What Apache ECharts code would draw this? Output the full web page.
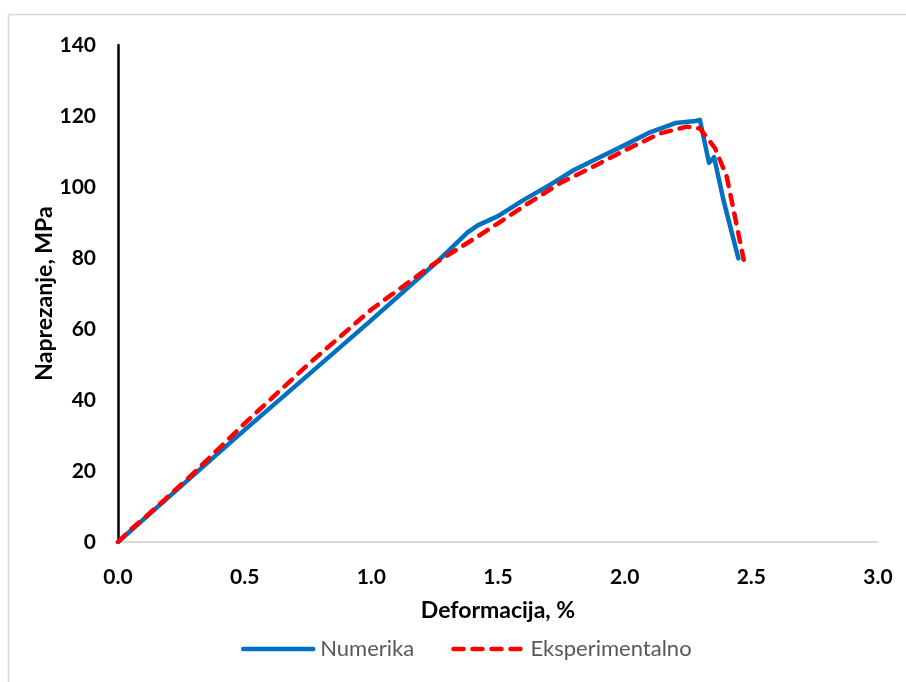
<!DOCTYPE html>
<html>
<head>
<meta charset="utf-8">
<script src="https://cdn.jsdelivr.net/npm/echarts@6/dist/echarts.min.js"></script>
<style>
html,body{margin:0;padding:0;background:#fff;}
#chart{width:906px;height:682px;}
</style>
</head>
<body>
<div id="chart"></div>
<script>
const seriesNames = ['Numerika', 'Eksperimentalno'];
const xTicks = ['0.0', '0.5', '1.0', '1.5', '2.0', '2.5', '3.0'];
const yTicks = [0, 20, 40, 60, 80, 100, 120, 140];
const numerikaX = [0, 0.25, 0.5, 0.75, 1.0, 1.25, 1.38, 1.42, 1.5, 1.6, 1.7, 1.8, 1.9, 2.0, 2.1, 2.2, 2.28, 2.297, 2.333, 2.353, 2.39, 2.449];
const numerikaY = [0, 15.8, 31.6, 47.0, 62.5, 78.3, 87.2, 89.2, 91.8, 96.3, 100.4, 104.8, 108.3, 111.8, 115.4, 118.0, 118.6, 118.9, 106.8, 108.4, 96.3, 79.9];
const eksperX = [0, 0.05, 0.1, 0.19, 0.3, 0.5, 0.75, 1.0, 1.25, 1.43, 1.6, 1.75, 1.85, 2.0, 2.14, 2.245, 2.297, 2.357, 2.403, 2.47];
const eksperY = [0, 3.5, 6.5, 12.3, 19.5, 33.4, 50.0, 65.5, 78.5, 86.5, 94.5, 101.3, 104.8, 110.3, 115.1, 117.0, 116.5, 110.9, 102.9, 79.5];

const zip = (xs, ys) => xs.map((x, i) => [x, ys[i]]);
const FONT = 'Lato, "Open Sans", "DejaVu Sans", sans-serif';

const chart = echarts.init(document.getElementById('chart'));
chart.setOption({
  animation: false,
  backgroundColor: '#ffffff',
  graphic: [{
    type: 'rect',
    shape: { x: 8.5, y: 14.5, width: 1000, height: 1000 },
    style: { fill: 'none', stroke: '#d9d9d9', lineWidth: 1.5 },
    silent: true
  }],
  grid: { left: 118, right: 28, top: 45, bottom: 140 },
  legend: {
    left: 236, top: 633,
    itemWidth: 70, itemHeight: 14, itemGap: 37,
    itemStyle: { opacity: 0 },
    lineStyle: { width: 4.5, cap: 'round' },
    textStyle: { color: '#595959', fontSize: 22, fontFamily: FONT, padding: [0, 0, 0, 2] },
    data: seriesNames
  },
  xAxis: {
    type: 'value', min: 0, max: 3, interval: 0.5,
    name: 'Deformacija, %', nameLocation: 'middle', nameGap: 57,
    nameTextStyle: { color: '#000', fontSize: 23, fontWeight: 'bold', fontFamily: FONT },
    axisLine: { show: true, lineStyle: { color: '#d0d0d0', width: 1.5 } },
    axisTick: { show: false },
    splitLine: { show: false },
    axisLabel: {
      margin: 25, color: '#000', fontSize: 21, fontWeight: 'bold', fontFamily: FONT,
      formatter: (v) => xTicks[Math.round(v / 0.5)]
    }
  },
  yAxis: {
    type: 'value', min: 0, max: 140, interval: 20,
    name: 'Naprezanje, MPa', nameLocation: 'middle', nameGap: 62, nameMoveOverlap: false,
    nameTextStyle: { color: '#000', fontSize: 23, fontWeight: 'bold', fontFamily: FONT },
    axisLine: { show: true, lineStyle: { color: '#000', width: 2.5 } },
    axisTick: { show: false },
    splitLine: { show: false },
    axisLabel: {
      margin: 22, color: '#000', fontSize: 21, fontWeight: 'bold', fontFamily: FONT,
      formatter: (v) => String(yTicks[Math.round(v / 20)])
    }
  },
  series: [
    {
      name: seriesNames[0], type: 'line', showSymbol: false, symbol: 'none',
      data: zip(numerikaX, numerikaY),
      lineStyle: { color: '#0070C0', width: 4.5, cap: 'round', join: 'round' },
      itemStyle: { color: '#0070C0' },
      z: 2
    },
    {
      name: seriesNames[1], type: 'line', showSymbol: false, symbol: 'none',
      data: zip(eksperX, eksperY),
      lineStyle: { color: '#FF0000', width: 4.5, type: [10, 9], cap: 'round', join: 'round' },
      itemStyle: { color: '#FF0000' },
      z: 3
    }
  ]
});
</script>
</body>
</html>
